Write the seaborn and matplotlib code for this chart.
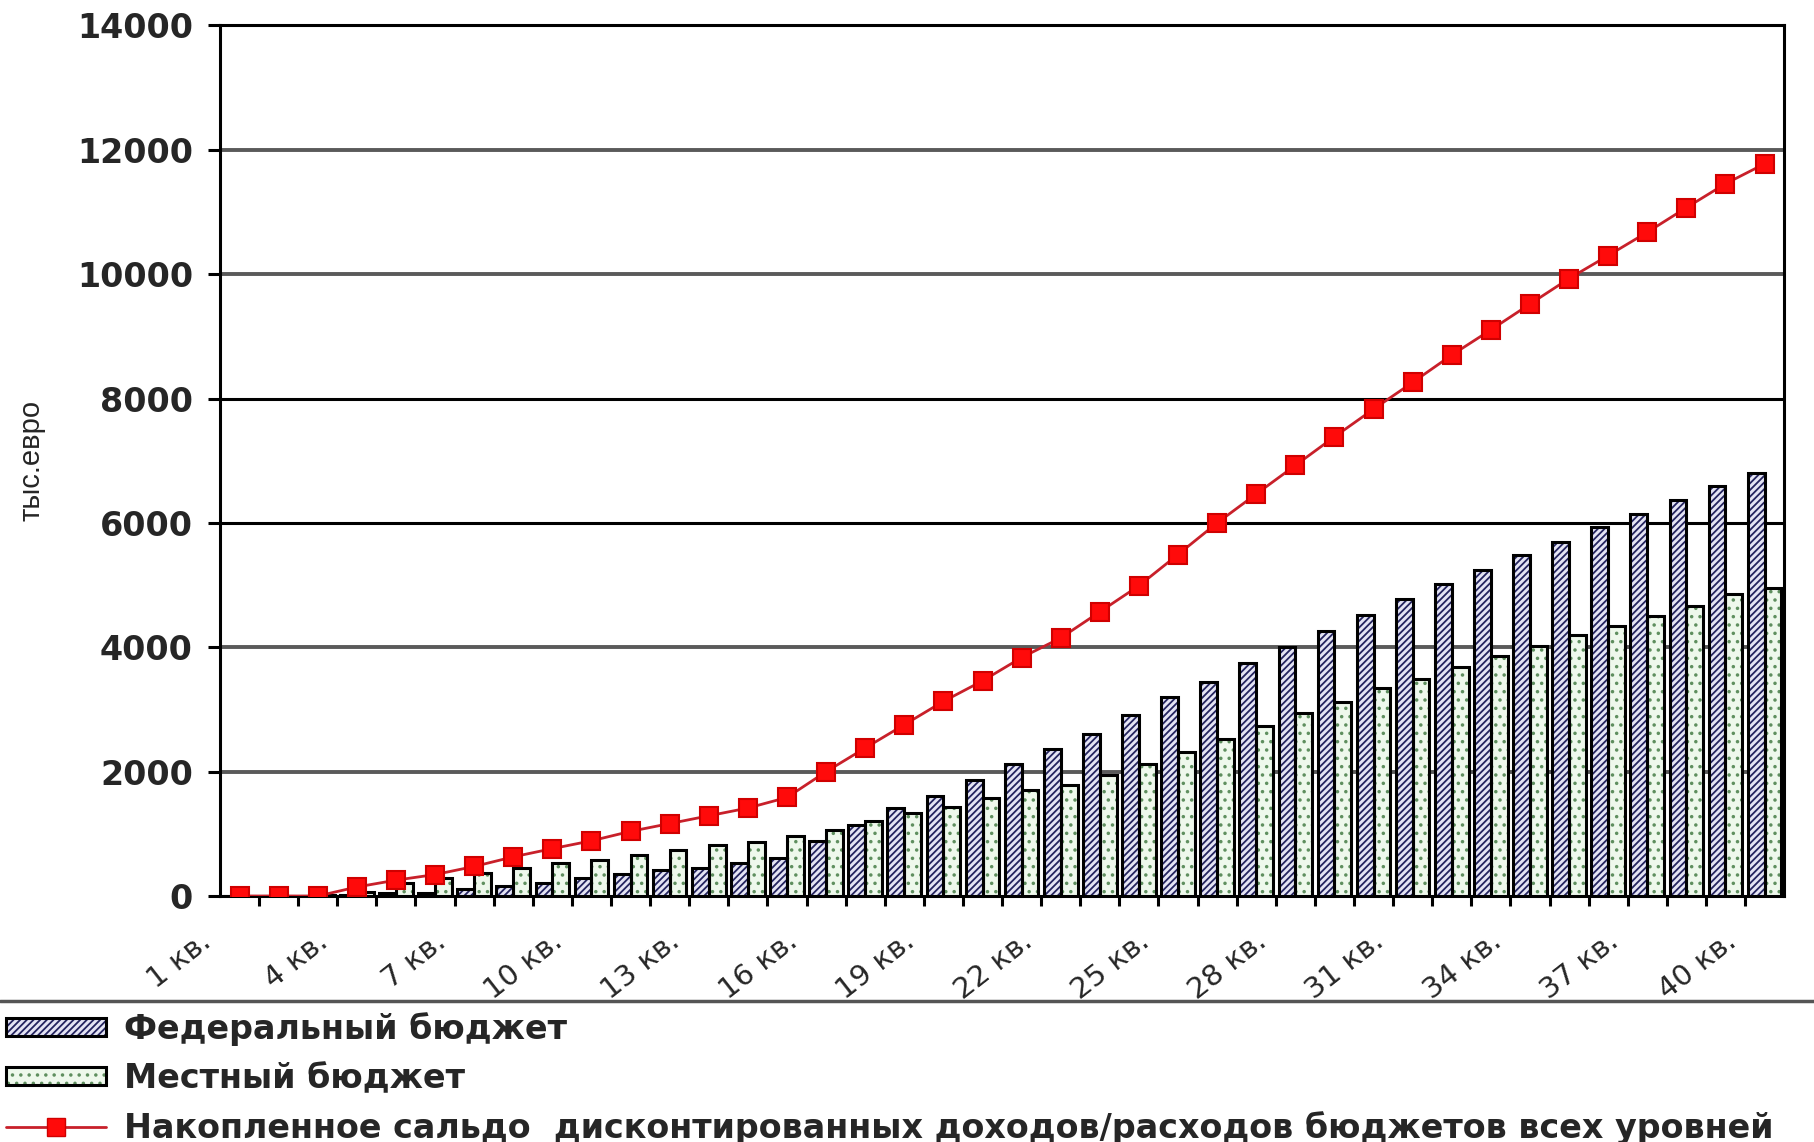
import matplotlib
matplotlib.use("Agg")
import matplotlib.pyplot as plt
import pandas as pd
import seaborn as sns
from matplotlib.patches import Patch, Rectangle
from matplotlib.lines import Line2D
from matplotlib.legend_handler import HandlerTuple
from matplotlib.transforms import ScaledTranslation

# ---- data (тыс. евро по кварталам) ----
quarters = [f"{i} кв." for i in range(1, 41)]

federal = [0, 0, 0, 10, 50, 50, 107, 160, 213, 293,
           352, 426, 458, 533, 618, 885, 1140, 1412, 1602, 1873,
           2118, 2362, 2606, 2905, 3193, 3448, 3747, 4002, 4265, 4520,
           4781, 5010, 5247, 5477, 5697, 5928, 6149, 6374, 6589, 6809]

local = [0, 0, 10, 60, 213, 283, 373, 458, 533, 576,
         666, 736, 816, 869, 960, 1059, 1205, 1341, 1439, 1575,
         1710, 1792, 1944, 2118, 2324, 2525, 2742, 2948, 3120, 3340,
         3494, 3681, 3862, 4027, 4192, 4341, 4506, 4671, 4852, 4951]

balance = [0, 0, 0, 145, 255, 345, 475, 630, 762, 888,
           1040, 1165, 1290, 1415, 1585, 2000, 2380, 2755, 3130, 3460,
           3835, 4150, 4570, 4990, 5492, 6000, 6465, 6925, 7385, 7830,
           8260, 8700, 9105, 9520, 9930, 10300, 10675, 11070, 11455, 11775]

series_names = ["Федеральный бюджет",
                "Местный бюджет",
                "Накопленное сальдо  дисконтированных доходов/расходов бюджетов всех уровней"]
y_ticks = [0, 2000, 4000, 6000, 8000, 10000, 12000, 14000]
y_label = "тыс.евро"

# ---- styles ----
FED_FACE, FED_HATCH = "#e4e4f4", "#23235e"
LOC_FACE, LOC_HATCH = "#eef8ec", "#5f8f5f"
RED_LINE, RED_MARK = "#c8202a", "#ff0a0a"

sns.set_theme(style="white")
plt.rcParams["font.family"] = ["DejaVu Sans"]
plt.rcParams["hatch.linewidth"] = 1.3

fig = plt.figure(figsize=(18.15, 11.42), dpi=100)
ax = fig.add_axes([0.1212, 0.2154, 0.983 - 0.1212, 0.9777 - 0.2154])

df = pd.DataFrame({
    "quarter": quarters * 2,
    "value": federal + local,
    "budget": [series_names[0]] * len(quarters) + [series_names[1]] * len(quarters),
})

sns.barplot(data=df, x="quarter", y="value", hue="budget",
            order=quarters, hue_order=series_names[:2],
            palette=[FED_FACE, LOC_FACE], saturation=1,
            width=0.86, dodge=True, errorbar=None, legend=False,
            ax=ax, zorder=3)

# hatch fill in its own colour, black outline on top
for container, hatch, hcol in zip(ax.containers, ["/////", ".."], [FED_HATCH, LOC_HATCH]):
    for bar in container:
        bar.set_hatch(hatch)
        bar.set_edgecolor(hcol)
        bar.set_linewidth(0)
        ax.add_patch(Rectangle((bar.get_x(), bar.get_y()), bar.get_width(), bar.get_height(),
                               fill=False, edgecolor="black", linewidth=2.2, zorder=4))

sns.pointplot(x=quarters, y=balance, order=quarters, color=RED_LINE,
              markers="s", linestyles="-", errorbar=None, ax=ax,
              markersize=13, linewidth=2, markerfacecolor=RED_MARK,
              markeredgecolor="#d00000", zorder=6)

# ---- axes ----
ax.set_xlim(-0.5, len(quarters) - 0.5)
ax.set_ylim(y_ticks[0], y_ticks[-1])
ax.set_xlabel("")
ax.set_ylabel("")

for side in ["left", "right", "top", "bottom"]:
    ax.spines[side].set_visible(True)
    ax.spines[side].set_color("black")
    ax.spines[side].set_linewidth(2.2)

ax.set_yticks(y_ticks)
ax.set_yticklabels([str(v) for v in y_ticks], fontsize=24, fontweight="bold")
ax.tick_params(axis="y", which="major", direction="out", length=8.5, width=2.2,
               color="black", pad=11, left=True)

for v in y_ticks[1:-1]:
    solid = v in (6000, 8000)
    ax.axhline(v, color="black" if solid else "#5a5a5a",
               linewidth=2.2 if solid else 2.8, zorder=1)

ax.set_xticks(range(len(quarters)))
ax.set_xticklabels([q if i % 3 == 0 else "" for i, q in enumerate(quarters)],
                   rotation=38, ha="right", va="baseline", rotation_mode="anchor",
                   fontsize=21)
ax.tick_params(axis="x", which="major", length=0, pad=35, bottom=True)
shift = ScaledTranslation(-0.27, 0, fig.dpi_scale_trans)
for lab in ax.get_xticklabels():
    lab.set_transform(lab.get_transform() + shift)
ax.set_xticks([i + 0.5 for i in range(len(quarters) - 1)], minor=True)
ax.tick_params(axis="x", which="minor", direction="out", length=7, width=2.2,
               color="black", bottom=True)

fig.text(0.0176, 0.597, y_label, rotation=90, ha="center", va="center",
         fontsize=21, family=["Liberation Sans", "DejaVu Sans"])

# ---- separator and legend ----
fig.add_artist(Line2D([0, 1], [0.1235, 0.1235], transform=fig.transFigure,
                      color="#555555", linewidth=2.5))

fed_handle = (Patch(facecolor=FED_FACE, hatch="/////", edgecolor=FED_HATCH, linewidth=0),
              Patch(fill=False, edgecolor="black", linewidth=2.2))
loc_handle = (Patch(facecolor=LOC_FACE, hatch="..", edgecolor=LOC_HATCH, linewidth=0),
              Patch(fill=False, edgecolor="black", linewidth=2.2))
line_handle = Line2D([], [], color=RED_LINE, linewidth=2, marker="s", markersize=13,
                     markerfacecolor=RED_MARK, markeredgecolor="#d00000")

fig.legend([fed_handle, loc_handle, line_handle], series_names,
           loc="upper left", bbox_to_anchor=(0.0033, 0.1138),
           frameon=False, prop={"size": 24, "weight": "bold"},
           handlelength=3.0, handleheight=0.48, labelspacing=0.48,
           handletextpad=0.54, borderaxespad=0, borderpad=0,
           handler_map={tuple: HandlerTuple(ndivide=1)})

fig.savefig("out.png", dpi=100, facecolor="white")
